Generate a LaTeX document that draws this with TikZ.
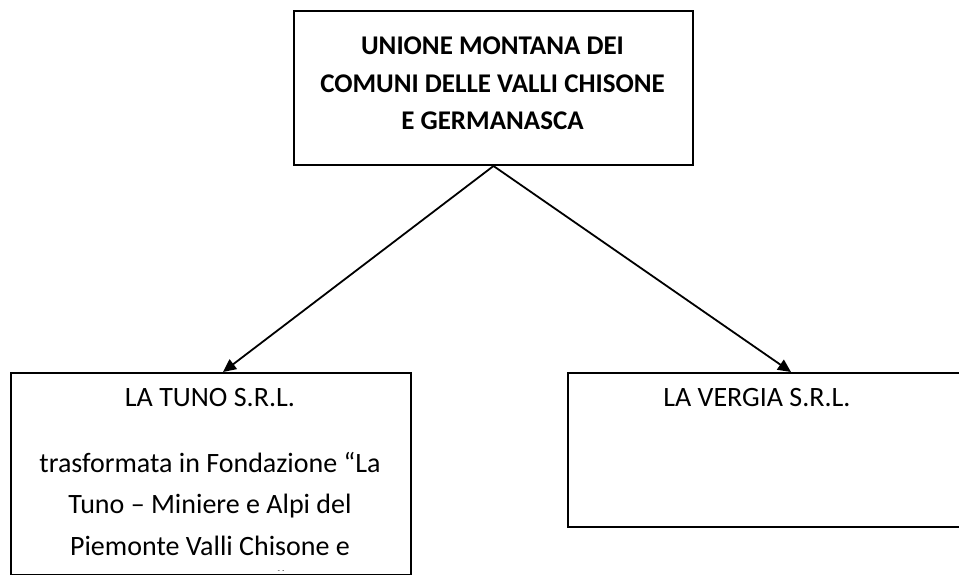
\documentclass[tikz,border=0pt]{standalone}
\usepackage{fontspec}
\setmainfont{Carlito}
\usetikzlibrary{arrows.meta}
\tikzset{
  box/.style={draw=black, line width=2pt, minimum width=#1, inner sep=0pt},
  link/.style={line width=1.8pt, -{Triangle[length=13pt,width=12pt]}},
  txt/.style={align=center, inner sep=0pt, font=\fontsize{28}{41.5}\selectfont}
}
\begin{document}
\begin{tikzpicture}[x=1pt,y=-1pt]
\useasboundingbox (0,0) rectangle (959,575);
\clip (0,0) rectangle (959,575);
\fill[white] (0,0) rectangle (959,575);
% boxes
\node[box=399pt, minimum height=154pt, anchor=north west] (top) at (293,10) {};
\node[box=400pt, minimum height=202pt, anchor=north west] (tuno) at (10,372) {};
\node[box=400pt, minimum height=154pt, anchor=north west] (vergia) at (567,372) {};
% texts
\node[txt, anchor=base, font=\fontsize{27}{37.5}\selectfont\bfseries] (toptext) at (492.5,130)
  {UNIONE MONTANA DEI\\COMUNI DELLE VALLI CHISONE\\E GERMANASCA};
\node[txt, anchor=base] (tunoname) at (210,406) {LA TUNO S.R.L.};
\begin{scope}
\clip (12,373) rectangle (408,570);
\node[txt, anchor=base] (tunodesc) at (210,590)
  {trasformata in Fondazione “La\\Tuno – Miniere e Alpi del\\Piemonte Valli Chisone e\\[-6.5pt]Germanasca”};
\end{scope}
\node[txt, anchor=base] (vergianame) at (757,406) {LA VERGIA S.R.L.};
% connectors
\coordinate (apex) at (top.south);
\draw[link] (apex) -- ([xshift=12pt]tuno.north);
\draw[link] (apex) -- ([xshift=23pt]vergia.north);
\end{tikzpicture}
\end{document}
